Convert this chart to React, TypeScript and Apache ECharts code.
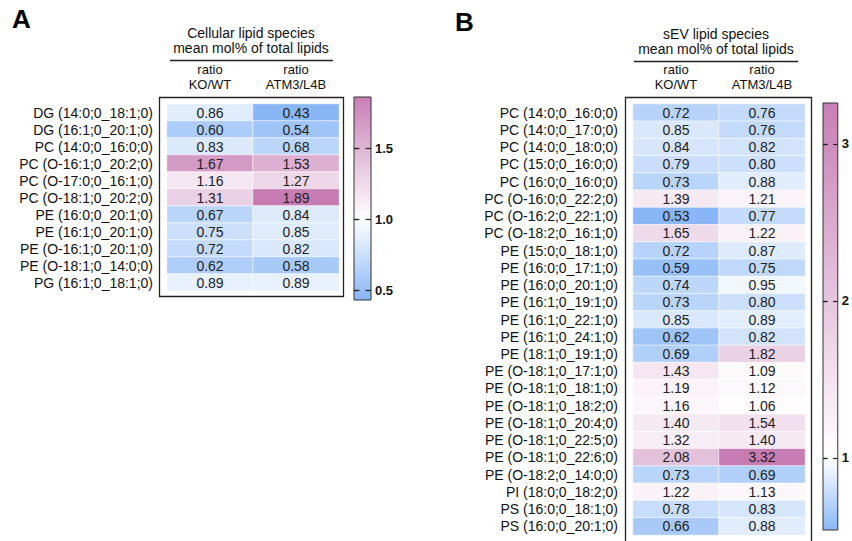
import React, { useEffect, useRef } from 'react';
import * as echarts from 'echarts';

const FONT = '"Liberation Sans", Arial, Helvetica, sans-serif';

// ---- Panel A data ----
const colHeaders = ['ratio\nKO/WT', 'ratio\nATM3/L4B'];
const labelsA = [
  'DG (14:0;0_18:1;0)', 'DG (16:1;0_20:1;0)', 'PC (14:0;0_16:0;0)', 'PC (O-16:1;0_20:2;0)',
  'PC (O-17:0;0_16:1;0)', 'PC (O-18:1;0_20:2;0)', 'PE (16:0;0_20:1;0)', 'PE (16:1;0_20:1;0)',
  'PE (O-16:1;0_20:1;0)', 'PE (O-18:1;0_14:0;0)', 'PG (16:1;0_18:1;0)',
];
const koA = [0.86, 0.60, 0.83, 1.67, 1.16, 1.31, 0.67, 0.75, 0.72, 0.62, 0.89];
const atmA = [0.43, 0.54, 0.68, 1.53, 1.27, 1.89, 0.84, 0.85, 0.82, 0.58, 0.89];
const ticksA = [0.5, 1.0, 1.5];

// ---- Panel B data ----
const labelsB = [
  'PC (14:0;0_16:0;0)', 'PC (14:0;0_17:0;0)', 'PC (14:0;0_18:0;0)', 'PC (15:0;0_16:0;0)',
  'PC (16:0;0_16:0;0)', 'PC (O-16:0;0_22:2;0)', 'PC (O-16:2;0_22:1;0)', 'PC (O-18:2;0_16:1;0)',
  'PE (15:0;0_18:1;0)', 'PE (16:0;0_17:1;0)', 'PE (16:0;0_20:1;0)', 'PE (16:1;0_19:1;0)',
  'PE (16:1;0_22:1;0)', 'PE (16:1;0_24:1;0)', 'PE (18:1;0_19:1;0)', 'PE (O-18:1;0_17:1;0)',
  'PE (O-18:1;0_18:1;0)', 'PE (O-18:1;0_18:2;0)', 'PE (O-18:1;0_20:4;0)', 'PE (O-18:1;0_22:5;0)',
  'PE (O-18:1;0_22:6;0)', 'PE (O-18:2;0_14:0;0)', 'PI (18:0;0_18:2;0)', 'PS (16:0;0_18:1;0)',
  'PS (16:0;0_20:1;0)',
];
const koB = [0.72, 0.85, 0.84, 0.79, 0.73, 1.39, 0.53, 1.65, 0.72, 0.59, 0.74, 0.73, 0.85, 0.62, 0.69,
  1.43, 1.19, 1.16, 1.40, 1.32, 2.08, 0.73, 1.22, 0.78, 0.66];
const atmB = [0.76, 0.76, 0.82, 0.80, 0.88, 1.21, 0.77, 1.22, 0.87, 0.75, 0.95, 0.80, 0.89, 0.82, 1.82,
  1.09, 1.12, 1.06, 1.54, 1.40, 3.32, 0.69, 1.13, 0.83, 0.88];
const ticksB = [1, 2, 3];

const BLUE = [136, 182, 246];
const PINK = [198, 123, 179];

function colorFor(v: number, vmin: number, vmax: number) {
  let t: number;
  let c: number[];
  if (v < 1) { t = Math.min(1, Math.max(0, (1 - v) / (1 - vmin))); c = BLUE; }
  else { t = Math.min(1, Math.max(0, (v - 1) / (vmax - 1))); c = PINK; }
  const m = (i: number) => Math.round(255 + (c[i] - 255) * t);
  return `rgb(${m(0)},${m(1)},${m(2)})`;
}

function cells(ko: number[], atm: number[]) {
  const all = ko.concat(atm);
  const mn = Math.min(...all), mx = Math.max(...all);
  const out: number[][] = [];
  ko.forEach((v, i) => {
    out.push([0, i, v]);
    out.push([1, i, atm[i]]);
  });
  const N = 100;
  const palette: string[] = [];
  for (let i = 0; i <= N; i++) palette.push(colorFor(mn + ((mx - mn) * i) / N, mn, mx));
  return { out, mn, mx, palette };
}

function colorbarSeries(xIdx: number, yIdx: number, cbMin: number, cbMax: number, dMin: number, dMax: number, ticks: number[]) {
  return {
    type: 'custom',
    xAxisIndex: xIdx,
    yAxisIndex: yIdx,
    z: 1,
    silent: true,
    clip: false,
    data: [[0.5, cbMax]],
    renderItem: (params: any, api: any) => {
      const top = api.coord([0, cbMax]);
      const bot = api.coord([0, cbMin]);
      const cs = params.coordSys;
      const stops: any[] = [];
      const N = 60;
      for (let i = 0; i <= N; i++) {
        const v = cbMax - ((cbMax - cbMin) * i) / N;
        stops.push({ offset: i / N, color: colorFor(v, dMin, dMax) });
      }
      const w = cs.width;
      const children: any[] = [
        {
          type: 'rect',
          shape: { x: cs.x, y: top[1], width: w, height: bot[1] - top[1] },
          style: {
            fill: new echarts.graphic.LinearGradient(0, 0, 0, 1, stops),
            stroke: '#333',
            lineWidth: 1,
          },
        },
      ];
      ticks.forEach((t) => {
        const y = Math.round(api.coord([0, t])[1]) + 0.5;
        children.push({
          type: 'line',
          shape: { x1: cs.x, y1: y, x2: cs.x + w * 0.32, y2: y },
          style: { stroke: '#222', lineWidth: 1.2 },
        });
        children.push({
          type: 'line',
          shape: { x1: cs.x + w * 0.68, y1: y, x2: cs.x + w, y2: y },
          style: { stroke: '#222', lineWidth: 1.2 },
        });
      });
      return { type: 'group', children };
    },
  };
}

function cbAxis(grid: number, mn: number, mx: number, ticks: number[], fmt: (v: number) => string) {
  return {
    gridIndex: grid, type: 'value', min: mn, max: mx, position: 'right', z: 5,
    splitLine: { show: false }, axisLine: { show: false },
    axisTick: { show: true, customValues: ticks, length: 4, lineStyle: { color: '#222', width: 1.2 } },
    axisLabel: { customValues: ticks, formatter: fmt, margin: 4, fontWeight: 'bold', fontSize: 13, fontFamily: FONT, color: '#111' },
  };
}

export default function App() {
  const ref = useRef<HTMLDivElement>(null);
  useEffect(() => {
    document.body.style.margin = '0';
    const chart = echarts.init(ref.current!, null, { renderer: 'svg' });
    const A = cells(koA, atmA);
    const B = cells(koB, atmB);

    const catX = (grid: number) => ({
      gridIndex: grid, type: 'category', data: colHeaders, position: 'top',
      axisLine: { show: false }, axisTick: { show: false }, splitArea: { show: false },
      axisLabel: { fontSize: 13, lineHeight: 15, margin: 12.5, color: '#111', fontFamily: FONT, interval: 0 },
    });
    const catY = (grid: number, labels: string[], margin: number) => ({
      gridIndex: grid, type: 'category', data: labels, inverse: true,
      axisLine: { show: false }, axisTick: { show: false }, splitArea: { show: false },
      axisLabel: { fontSize: 14, margin, color: '#111', fontFamily: FONT, interval: 0 },
    });
    const heat = (xi: number, data: any[]) => ({
      type: 'heatmap', xAxisIndex: xi, yAxisIndex: xi, data,
      itemStyle: { borderColor: '#fff', borderWidth: 0.6 },
      label: {
        show: true, fontSize: 14, color: '#222', fontFamily: FONT,
        formatter: (p: any) => p.value[2].toFixed(2),
      },
      emphasis: { disabled: true },
    });

    const titleText = (x: number, y: number, text: string) => ({
      type: 'text', x, y,
      style: { text, fontSize: 14, fontFamily: FONT, fill: '#111', align: 'center', verticalAlign: 'top', lineHeight: 15 },
    });

    chart.setOption({
      animation: false,
      backgroundColor: '#fff',
      visualMap: [
        { type: 'continuous', show: false, seriesIndex: 0, dimension: 2, min: A.mn, max: A.mx, inRange: { color: A.palette } },
        { type: 'continuous', show: false, seriesIndex: 1, dimension: 2, min: B.mn, max: B.mx, inRange: { color: B.palette } },
      ],
      grid: [
        { left: 167, top: 104, width: 172, height: 187 },
        { left: 633, top: 104, width: 172, height: 431 },
        { left: 354, top: 97, width: 17, height: 203 },
        { left: 823, top: 103, width: 15, height: 427 },
      ],
      xAxis: [
        catX(0), catX(1),
        { gridIndex: 2, type: 'value', min: 0, max: 1, show: false },
        { gridIndex: 3, type: 'value', min: 0, max: 1, show: false },
      ],
      yAxis: [
        catY(0, labelsA, 14),
        catY(1, labelsB, 15),
        cbAxis(2, 0.43, 1.86, ticksA, (v: number) => v.toFixed(1)),
        cbAxis(3, 0.54, 3.26, ticksB, (v: number) => String(Math.round(v))),
      ],
      series: [
        heat(0, A.out),
        heat(1, B.out),
        colorbarSeries(2, 2, 0.43, 1.86, A.mn, A.mx, ticksA),
        colorbarSeries(3, 3, 0.54, 3.26, B.mn, B.mx, ticksB),
      ],
      graphic: [
        { type: 'text', x: 12, y: 19, style: { text: 'A', fontSize: 26, fontWeight: 'bold', fontFamily: FONT, fill: '#000', verticalAlign: 'middle' } },
        { type: 'text', x: 455, y: 22, style: { text: 'B', fontSize: 26, fontWeight: 'bold', fontFamily: FONT, fill: '#000', verticalAlign: 'middle' } },
        titleText(251, 25, 'Cellular lipid species\nmean mol% of total lipids'),
        titleText(716, 26, 'sEV lipid species\nmean mol% of total lipids'),
        { type: 'line', shape: { x1: 170, y1: 60.5, x2: 333, y2: 60.5 }, style: { stroke: '#222', lineWidth: 1.3 } },
        { type: 'line', shape: { x1: 634, y1: 61.5, x2: 798, y2: 61.5 }, style: { stroke: '#222', lineWidth: 1.3 } },
        { type: 'rect', shape: { x: 159.5, y: 97.5, width: 184, height: 199 }, style: { fill: 'none', stroke: '#222', lineWidth: 1.3 } },
        { type: 'rect', shape: { x: 625.5, y: 97.5, width: 186, height: 460 }, style: { fill: 'none', stroke: '#222', lineWidth: 1.3 } },
      ],
    });
    return () => chart.dispose();
  }, []);
  return <div ref={ref} style={{ position: 'absolute', left: 0, top: 0, width: 852, height: 541 }} />;
}
